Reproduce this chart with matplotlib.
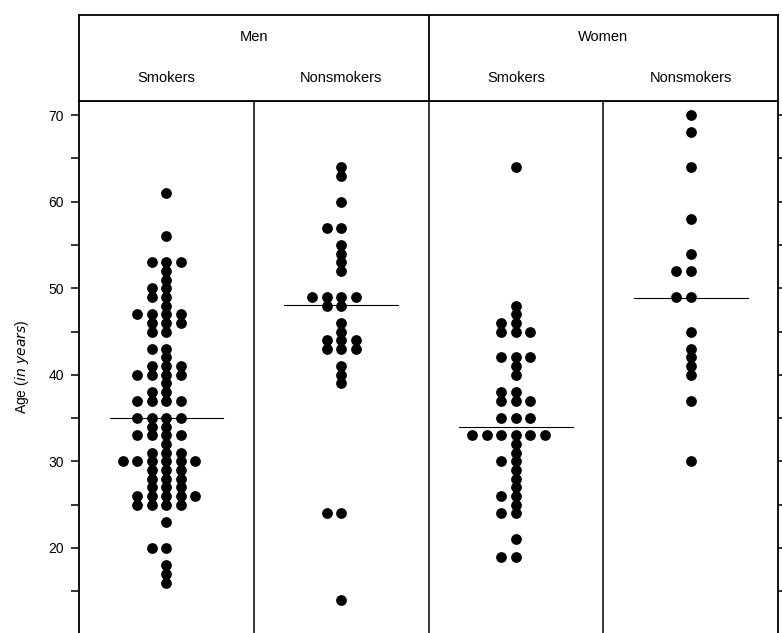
from collections import Counter

import numpy as np
import matplotlib
matplotlib.use("Agg")
from matplotlib import pyplot as plt
from matplotlib.ticker import MultipleLocator

plt.rcParams["font.family"] = ["Liberation Sans", "DejaVu Sans"]

# ages, one entry per dot
men_smokers = [61, 56, 53, 53, 53, 52, 51, 50, 50, 49, 49, 48,
               47, 47, 47, 47, 46, 46, 46, 45, 45, 43, 43, 42,
               41, 41, 41, 40, 40, 40, 40, 39, 38, 38, 37, 37, 37, 37,
               35, 35, 35, 35, 34, 34, 33, 33, 33, 33, 32, 31, 31, 31,
               30, 30, 30, 30, 30, 30, 29, 29, 29, 28, 28, 28, 27, 27, 27,
               26, 26, 26, 26, 26, 25, 25, 25, 25, 23, 20, 20, 18, 17, 16]
men_nonsmokers = [64, 63, 60, 57, 57, 55, 54, 53, 52, 49, 49, 49, 49,
                  48, 48, 46, 45, 44, 44, 44, 43, 43, 43, 41, 40, 39,
                  24, 24, 14]
women_smokers = [64, 48, 47, 46, 46, 45, 45, 45, 42, 42, 42, 41, 40,
                 38, 38, 37, 37, 37, 35, 35, 35, 33, 33, 33, 33, 33, 33,
                 32, 31, 30, 30, 29, 28, 27, 26, 26, 25, 24, 24, 21, 19, 19]
women_nonsmokers = [70, 68, 64, 58, 54, 52, 52, 49, 49, 45, 43, 42, 41,
                    40, 37, 30]

groups = [men_smokers, men_nonsmokers, women_smokers, women_nonsmokers]
group_labels = ["Smokers", "Nonsmokers", "Smokers", "Nonsmokers"]
sex_labels = ["Men", "Women"]
mean_age = [35.0, 48.1, 34.0, 48.9]


def dot_offsets(ages):
    # spread equal ages sideways: centre first, then left, right, ...
    order = [0, -1, 1, -2, 2, -3, 3]
    seen = Counter()
    offs = []
    for a in ages:
        offs.append(order[seen[a]])
        seen[a] += 1
    return np.array(offs)


fig = plt.figure(figsize=(7.82, 6.33), dpi=100)
ax = fig.add_axes([0.101, 0.0, 0.894, 0.8404])
hax = fig.add_axes([0.101, 0.8404, 0.894, 0.136])

step = 0.083
for i, ages in enumerate(groups):
    ages = np.array(ages)
    x = i + 0.5 + dot_offsets(ages) * step
    ax.scatter(x, ages, s=60, color="black", linewidths=0, zorder=3)
    ax.plot([i + 0.5 - 0.325, i + 0.5 + 0.325], [mean_age[i]] * 2,
            color="black", lw=0.8, zorder=2)

for xv in [1, 2, 3]:
    ax.axvline(xv, color="black", lw=1.1)

ax.set_xlim(0, 4)
ax.set_ylim(10.18, 71.62)
ax.set_xticks([])
ax.yaxis.set_major_locator(MultipleLocator(10))
ax.yaxis.set_minor_locator(MultipleLocator(5))
ax.set_yticks(range(20, 71, 10))
ax.tick_params(axis="y", which="both", direction="out", length=6,
               width=1.1, right=True, labelsize=10, pad=5)
ax.spines["bottom"].set_visible(False)
for s in ["left", "right", "top"]:
    ax.spines[s].set_linewidth(1.3)
ax.set_ylabel(r"Age ($\it{in\ years}$)", fontsize=10, labelpad=12)

hax.set_xlim(0, 4)
hax.set_ylim(0, 1)
hax.set_xticks([])
hax.set_yticks([])
for s in hax.spines.values():
    s.set_linewidth(1.3)
hax.axvline(2, color="black", lw=1.3)
for j, sex in enumerate(sex_labels):
    hax.text(2 * j + 1, 0.744, sex, ha="center", va="center", fontsize=10.5)
for i, lab in enumerate(group_labels):
    hax.text(i + 0.5, 0.267, lab, ha="center", va="center", fontsize=10.5)

fig.savefig("out.png", dpi=100)
